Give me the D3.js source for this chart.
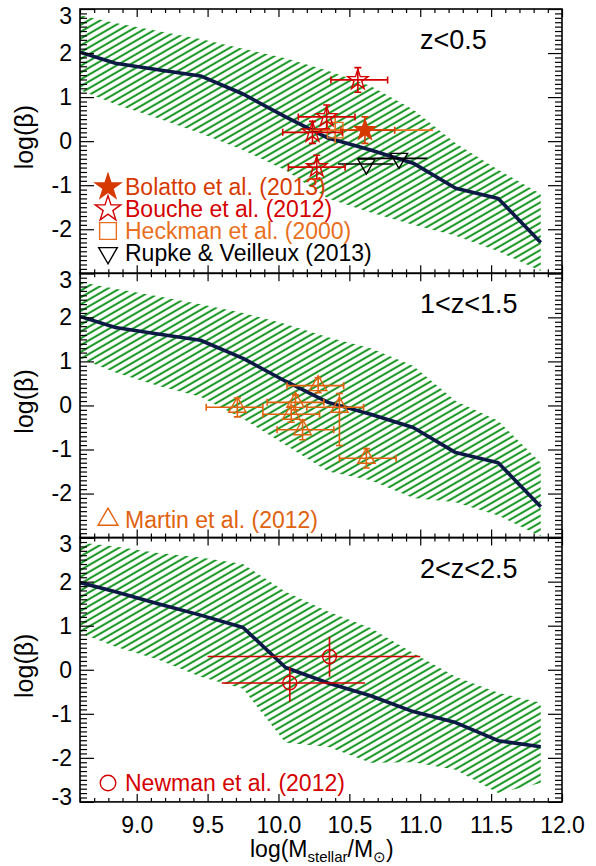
<!DOCTYPE html>
<html><head><meta charset="utf-8">
<script src="https://cdn.jsdelivr.net/npm/d3@7"></script>
<style>body{margin:0;background:#fff} text{font-family:"Liberation Sans",Arial,sans-serif}</style>
</head><body><svg id="c" width="596" height="866"></svg>
<script>
// ---------- data ----------
const massBins = [8.6, 8.85, 9.15, 9.45, 9.75, 10.05, 10.35, 10.65, 10.95, 11.25, 11.55, 11.85];
const modelZ0 = [2.02, 1.77, 1.62, 1.48, 1.07, 0.55, 0.07, -0.2, -0.5, -1.07, -1.3, -2.3];
const upperZ0 = [2.86, 2.68, 2.5, 2.32, 2.1, 1.88, 1.6, 1.25, 0.72, -0.05, -0.65, -1.2];
const lowerZ0 = [1.16, 0.84, 0.52, 0.18, -0.2, -0.66, -1.3, -1.62, -1.9, -2.15, -2.5, -2.95];
const modelZ1 = [2.02, 1.77, 1.62, 1.48, 1.07, 0.55, 0.07, -0.2, -0.5, -1.07, -1.3, -2.3];
const upperZ1 = [2.8, 2.65, 2.48, 2.3, 2.1, 1.85, 1.55, 1.3, 0.9, 0.1, -0.35, -1.3];
const lowerZ1 = [1.07, 0.75, 0.45, 0.2, -0.3, -0.9, -1.5, -1.7, -2.1, -2.2, -2.5, -2.97];
const modelZ2 = [1.98, 1.77, 1.5, 1.24, 0.96, 0.05, -0.3, -0.59, -0.95, -1.2, -1.61, -1.75];
const upperZ2 = [2.89, 2.8, 2.65, 2.55, 2.4, 1.77, 1.32, 0.95, 0.38, -0.16, -0.52, -0.75];
const lowerZ2 = [0.84, 0.52, 0.23, -0.16, -0.43, -1.66, -1.75, -2.11, -2.1, -2.27, -2.8, -2.57];

const panelLabels = ["z<0.5", "1<z<1.5", "2<z<2.5"];
const xTicks = [9.0, 9.5, 10.0, 10.5, 11.0, 11.5, 12.0];
const yTicks = [-3, -2, -1, 0, 1, 2, 3];

// observations (x, y, x-range, y-range)
const boucheX = [10.56, 10.34, 10.24, 10.27];
const boucheY = [1.39, 0.55, 0.2, -0.59];
const boucheXlo = [10.37, 10.14, 10.03, 10.07];
const boucheXhi = [10.77, 10.54, 10.45, 10.47];
const boucheYlo = [1.11, 0.28, -0.05, -0.86];
const boucheYhi = [1.67, 0.82, 0.45, -0.32];

const bolattoX = [10.61];
const bolattoY = [0.25];
const bolattoXlo = [10.44];
const bolattoXhi = [10.82];
const bolattoYlo = [-0.05];
const bolattoYhi = [0.55];

const heckmanX = [10.40];
const heckmanY = [0.25];
const heckmanXlo = [10.22];
const heckmanXhi = [11.09];
const heckmanYlo = [-0.05];
const heckmanYhi = [0.59];

const rupkeX = [10.62, 10.85];
const rupkeY = [-0.52, -0.39];
const rupkeXlo = [10.42, 10.56];
const rupkeXhi = [10.81, 11.05];

const martinX = [9.71, 10.28, 10.12, 10.09, 10.43, 10.17, 10.62];
const martinY = [-0.04, 0.45, 0.07, -0.2, -0.04, -0.55, -1.2];
const martinXlo = [9.49, 10.06, 9.92, 9.89, 10.2, 9.99, 10.43];
const martinXhi = [9.89, 10.46, 10.32, 10.29, 10.6, 10.39, 10.83];
const martinYlo = [-0.26, 0.29, -0.1, -0.38, -0.91, -0.78, -1.42];
const martinYhi = [0.17, 0.63, 0.24, -0.03, 0.27, -0.33, -0.98];

const newmanX = [10.08, 10.36];
const newmanY = [-0.3, 0.3];
const newmanXlo = [9.6, 9.5];
const newmanXhi = [10.61, 11.0];
const newmanYlo = [-0.72, -0.16];
const newmanYhi = [0.05, 0.75];

// ---------- layout ----------
const svg = d3.select("#c");
const L = 80, R = 562;
const panelTop = [9, 273.3, 537.6];
const panelH = 264.3;
const x = d3.scaleLinear().domain([8.6, 12.0]).range([L, R]);
const C = {bouche:"#d40000", bolatto:"#d63a00", heckman:"#e8701e", rupke:"#000000",
           martin:"#e0620f", newman:"#d40000", green:"#1f9a2a", navy:"#0d1a45"};

const defs = svg.append("defs");
const pat = defs.append("pattern").attr("id","hatch").attr("patternUnits","userSpaceOnUse")
  .attr("width",12).attr("height",5.9).attr("patternTransform","rotate(-30)");
pat.append("line").attr("x1",0).attr("x2",12).attr("y1",2.9).attr("y2",2.9)
  .attr("stroke",C.green).attr("stroke-width",2.1);

function sym(type, size){
  const t = {star:d3.symbolStar, tri:d3.symbolTriangle, tridown:d3.symbolTriangle,
             square:d3.symbolSquare, circle:d3.symbolCircle}[type];
  return d3.symbol().type(t).size(size)();
}
function drawMarker(g, type, cx, cy, color, filled, size){
  g.append("path").attr("d", sym(type,size))
    .attr("transform", `translate(${cx},${cy})` + (type==="tridown" ? " rotate(180)" : ""))
    .attr("fill", filled ? color : "none").attr("stroke", color).attr("stroke-width", 1.4);
}

const panelsData = [
  {model:modelZ0, upper:upperZ0, lower:lowerZ0, sets:[
    {X:heckmanX,Y:heckmanY,Xlo:heckmanXlo,Xhi:heckmanXhi,Ylo:heckmanYlo,Yhi:heckmanYhi,type:"square",size:240,color:C.heckman,filled:false,caps:false},
    {X:rupkeX,Y:rupkeY,Xlo:rupkeXlo,Xhi:rupkeXhi,type:"tridown",size:130,color:C.rupke,filled:false,caps:false},
    {X:boucheX,Y:boucheY,Xlo:boucheXlo,Xhi:boucheXhi,Ylo:boucheYlo,Yhi:boucheYhi,type:"star",size:130,color:C.bouche,filled:false,caps:true},
    {X:bolattoX,Y:bolattoY,Xlo:bolattoXlo,Xhi:bolattoXhi,Ylo:bolattoYlo,Yhi:bolattoYhi,type:"star",size:130,color:C.bolatto,filled:true,caps:true}
  ], legend:[
    {type:"star",color:C.bolatto,filled:true,text:"Bolatto et al. (2013)",size:200},
    {type:"star",color:C.bouche,filled:false,text:"Bouche et al. (2012)",size:200},
    {type:"square",color:C.heckman,filled:false,text:"Heckman et al. (2000)",size:280},
    {type:"tridown",color:C.rupke,filled:false,text:"Rupke & Veilleux (2013)",size:150}
  ]},
  {model:modelZ1, upper:upperZ1, lower:lowerZ1, sets:[
    {X:martinX,Y:martinY,Xlo:martinXlo,Xhi:martinXhi,Ylo:martinYlo,Yhi:martinYhi,type:"tri",size:130,color:C.martin,filled:false,caps:true}
  ], legend:[
    {type:"tri",color:C.martin,filled:false,text:"Martin et al. (2012)",size:170}
  ]},
  {model:modelZ2, upper:upperZ2, lower:lowerZ2, sets:[
    {X:newmanX,Y:newmanY,Xlo:newmanXlo,Xhi:newmanXhi,Ylo:newmanYlo,Yhi:newmanYhi,type:"circle",size:150,color:C.newman,filled:false,caps:false}
  ], legend:[
    {type:"circle",color:C.newman,filled:false,text:"Newman et al. (2012)",size:190}
  ]}
];

panelsData.forEach((P, pi) => {
  const top = panelTop[pi], bot = top + panelH;
  const y = d3.scaleLinear().domain([-3, 3]).range([bot, top]);
  const g = svg.append("g");
  const clipId = "clip" + pi;
  defs.append("clipPath").attr("id", clipId).append("rect")
    .attr("x", L).attr("y", top).attr("width", R - L).attr("height", panelH);
  const inner = g.append("g").attr("clip-path", `url(#${clipId})`);

  // band
  const band = massBins.map((m,i) => ({m, lo:P.lower[i], hi:P.upper[i]}));
  inner.append("path").datum(band)
    .attr("d", d3.area().x(d=>x(d.m)).y0(d=>y(d.lo)).y1(d=>y(d.hi)))
    .attr("fill","url(#hatch)");

  // model line
  inner.append("path").datum(massBins.map((m,i)=>[m,P.model[i]]))
    .attr("d", d3.line().x(d=>x(d[0])).y(d=>y(d[1])))
    .attr("fill","none").attr("stroke",C.navy).attr("stroke-width",3.6).attr("stroke-linejoin","round");

  // observations
  P.sets.forEach(S => {
    S.X.forEach((xv, i) => {
      const cx = x(xv), cy = y(S.Y[i]);
      const eg = inner.append("g").attr("stroke", S.color).attr("stroke-width", 1.6);
      eg.append("line").attr("x1", x(S.Xlo[i])).attr("x2", x(S.Xhi[i])).attr("y1", cy).attr("y2", cy);
      if (S.caps) {
        [S.Xlo[i], S.Xhi[i]].forEach(v => eg.append("line").attr("x1", x(v)).attr("x2", x(v)).attr("y1", cy-3.5).attr("y2", cy+3.5));
      }
      if (S.Ylo) {
        eg.append("line").attr("x1", cx).attr("x2", cx).attr("y1", y(S.Ylo[i])).attr("y2", y(S.Yhi[i]));
        if (S.caps) {
          [S.Ylo[i], S.Yhi[i]].forEach(v => eg.append("line").attr("x1", cx-3.5).attr("x2", cx+3.5).attr("y1", y(v)).attr("y2", y(v)));
        }
      }
      drawMarker(inner, S.type, cx, cy, S.color, S.filled, S.size);
    });
  });

  // legend
  const legY0 = pi === 0 ? 187 : (pi === 1 ? 519.5 : 783);
  P.legend.forEach((Lg, i) => {
    const ly = legY0 + i * 22;
    drawMarker(g, Lg.type, 108, ly, Lg.color, Lg.filled, Lg.size);
    g.append("text").attr("x", 125).attr("y", ly).attr("dy", "0.36em")
      .attr("font-size", 23).attr("fill", Lg.color).text(Lg.text);
  });

  // panel label
  g.append("text").attr("x", 420).attr("y", top + 40).attr("font-size", 27).attr("fill", "#000")
    .text(panelLabels[pi]);

  // axes
  const majorY = d3.axisLeft(y).tickValues(yTicks).tickSize(-14).tickPadding(8)
    .tickFormat(d => (d === -3 && pi < 2) ? "" : String(d));
  const minorYvals = d3.range(-30, 31).map(v => v/10).filter(v => Math.abs(v - Math.round(v)) > 1e-6);
  const ax = g.append("g").attr("transform", `translate(${L},0)`).call(majorY);
  ax.selectAll("text").attr("font-size", 23).attr("fill","#000")
    .attr("y", d => d === 3 ? 7 : (d === -3 ? -5 : 0));
  g.append("g").attr("transform", `translate(${L},0)`).call(d3.axisLeft(y).tickValues(minorYvals).tickSize(-7).tickFormat(""));
  g.append("g").attr("transform", `translate(${R},0)`).call(d3.axisRight(y).tickValues(yTicks).tickSize(-14).tickFormat(""));
  g.append("g").attr("transform", `translate(${R},0)`).call(d3.axisRight(y).tickValues(minorYvals).tickSize(-7).tickFormat(""));

  const minorXvals = d3.range(86, 121).map(v => v/10).filter(v => Math.abs(v*2 - Math.round(v*2)) > 1e-6);
  const bx = g.append("g").attr("transform", `translate(0,${bot})`)
    .call(d3.axisBottom(x).tickValues(xTicks).tickSize(-8).tickPadding(15)
      .tickFormat(pi === 2 ? d3.format(".1f") : () => ""));
  bx.selectAll("text").attr("font-size", 23).attr("fill","#000");
  g.append("g").attr("transform", `translate(0,${bot})`).call(d3.axisBottom(x).tickValues(minorXvals).tickSize(-4).tickFormat(""));
  g.append("g").attr("transform", `translate(0,${top})`).call(d3.axisTop(x).tickValues(xTicks).tickSize(-8).tickFormat(""));
  g.append("g").attr("transform", `translate(0,${top})`).call(d3.axisTop(x).tickValues(minorXvals).tickSize(-4).tickFormat(""));

  g.selectAll(".domain").remove();
  g.selectAll(".tick line").attr("stroke", "#000").attr("stroke-width", 1.2);

  // frame
  g.append("rect").attr("x", L).attr("y", top).attr("width", R - L).attr("height", panelH)
    .attr("fill", "none").attr("stroke", "#000").attr("stroke-width", 1.6);

  // y title
  g.append("text").attr("transform", `translate(33,${top + panelH/2 - 4}) rotate(-90)`)
    .attr("text-anchor", "middle").attr("font-size", 25).attr("fill", "#000").text("log(β)");
});

// x title
const xt = svg.append("text").attr("x", 250).attr("y", 857).attr("font-size", 23).attr("fill", "#000");
xt.append("tspan").text("log(M");
xt.append("tspan").attr("font-size", 15).attr("dy", 5).text("stellar");
xt.append("tspan").attr("dy", -5).text("/M");
xt.append("tspan").attr("font-size", 15).attr("dy", 5).text("⊙");
xt.append("tspan").attr("dy", -5).text(")");
</script></body></html>
